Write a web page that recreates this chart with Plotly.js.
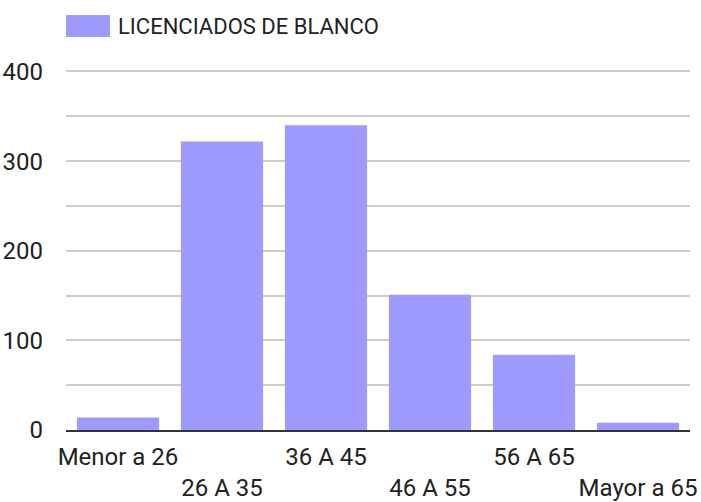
<!DOCTYPE html>
<html>
<head>
<meta charset="utf-8">
<script src="https://cdn.plot.ly/plotly-3.0.1.min.js"></script>
<style>
  body { margin: 0; background: #fff; }
  #chart { width: 701px; height: 502px; }
</style>
</head>
<body>
<div id="chart"></div>
<script>
let seriesName = "LICENCIADOS DE BLANCO";
let categories = ["Menor a 26", "26 A 35", "36 A 45", "46 A 55", "56 A 65", "Mayor a 65"];
let values = [14, 322, 340, 151, 84, 8];
let yTicks = [0, 100, 200, 300, 400];

// google style: every second label goes on a second row
let tickLabels = [];
for (let i = 0; i < categories.length; i++) {
  tickLabels.push(i % 2 === 0 ? categories[i] : "<br>" + categories[i]);
}

let barColor = "#9f9aff";

let trace = {
  x: categories,
  y: values,
  type: "bar",
  name: seriesName,
  marker: {color: barColor},
  hoverinfo: "x+y"
};

// plot area is 624 x 363 px, used for the legend box below
let pw = 624, ph = 363;

let layout = {
  width: 701,
  height: 502,
  margin: {l: 66, r: 11, t: 67, b: 72},
  paper_bgcolor: "#fff",
  plot_bgcolor: "#fff",
  font: {family: "Roboto, Arial, sans-serif", size: 24, color: "#222"},
  showlegend: false,
  bargap: 0.21,
  xaxis: {
    type: "category",
    tickvals: categories,
    ticktext: tickLabels,
    showgrid: false,
    showline: true,
    linecolor: "#333",
    linewidth: 2,
    ticks: "",
    ticklabelstandoff: 4,
    fixedrange: true
  },
  yaxis: {
    range: [0, 405],
    tickvals: yTicks,
    showgrid: true,
    gridcolor: "#cccccc",
    gridwidth: 2,
    minor: {dtick: 50, showgrid: true, gridcolor: "#cccccc", gridwidth: 2},
    zeroline: false,
    ticks: "",
    ticklabelstandoff: 22,
    fixedrange: true
  },
  shapes: [{
    type: "rect", xref: "paper", yref: "paper",
    x0: 0, x1: 44 / pw, y0: (430 - 37) / ph, y1: (430 - 15) / ph,
    fillcolor: barColor, line: {width: 0}
  }],
  annotations: [{
    xref: "paper", yref: "paper",
    x: 50 / pw, y: (430 - 26) / ph,
    xanchor: "left", yanchor: "middle",
    text: seriesName, showarrow: false,
    font: {size: 22, color: "#222"}
  }]
};

Plotly.newPlot("chart", [trace], layout, {displayModeBar: false, staticPlot: true});
</script>
</body>
</html>
